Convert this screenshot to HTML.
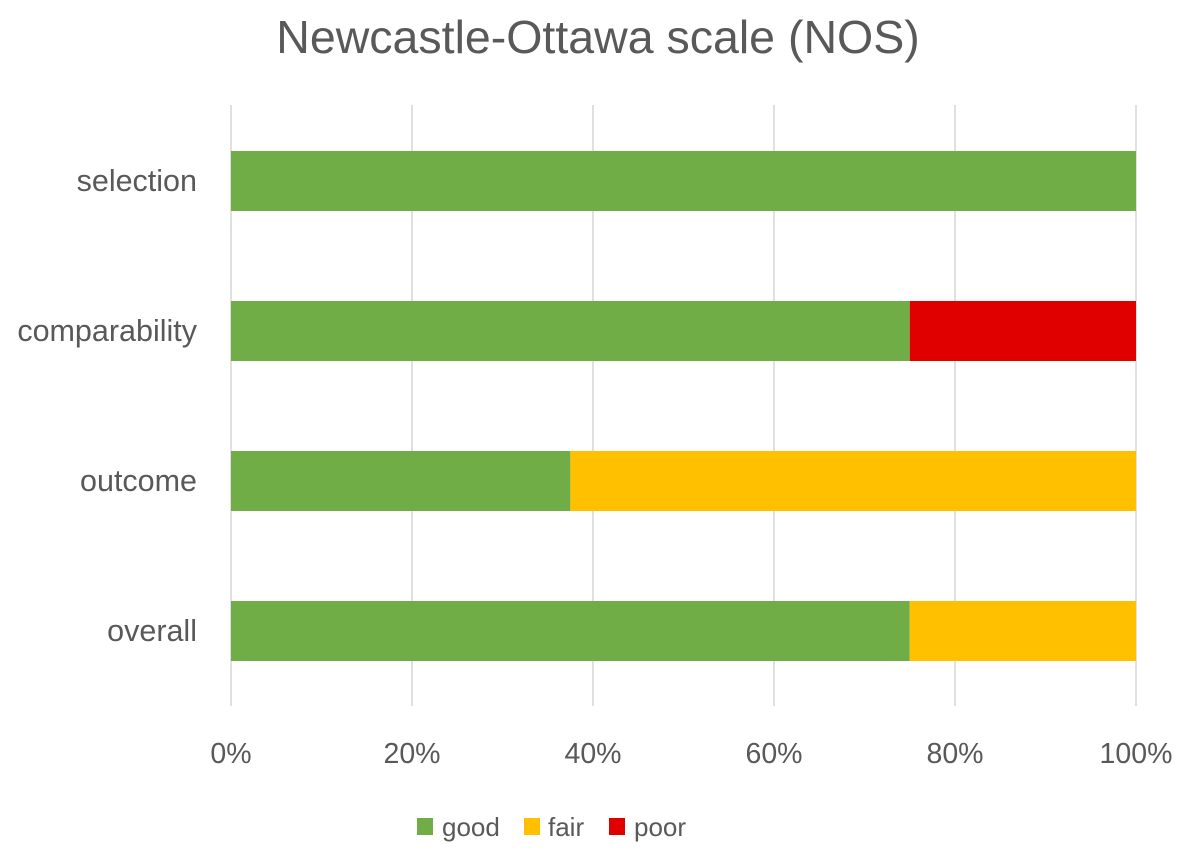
<!DOCTYPE html>
<html><head><meta charset="utf-8"><style>
body{margin:0;background:#fff;}
svg text{font-family:"Liberation Sans",sans-serif;fill:#595959;}
</style></head><body>
<svg id="chart" width="1181" height="851" viewBox="0 0 1181 851" xmlns="http://www.w3.org/2000/svg">
<text x="598" y="53" font-size="46.5" text-anchor="middle">Newcastle-Ottawa scale (NOS)</text>
<g id="grid"></g><g id="bars"></g><g id="ylabels"></g><g id="xlabels"></g>
<g>
<rect x="417" y="818" width="16" height="17" fill="#70ad47"/>
<text x="442" y="836" font-size="26">good</text>
<rect x="524" y="818" width="16" height="17" fill="#ffc000"/>
<text x="548" y="836" font-size="26">fair</text>
<rect x="609" y="818" width="16" height="17" fill="#e00000"/>
<text x="634" y="836" font-size="26">poor</text>
</g>
</svg>
<script>
const categories=["selection","comparability","outcome","overall"];
const good=[100,75,37.5,75];
const fair=[0,0,62.5,25];
const poor=[0,25,0,0];
const ticks=[0,20,40,60,80,100];
const tickLabels=["0%","20%","40%","60%","80%","100%"];
const NS="http://www.w3.org/2000/svg";
const x=v=>231+v*(1136-231)/100;
const yc=i=>181+i*150;
function mk(t,a,p){const e=document.createElementNS(NS,t);for(const k in a)e.setAttribute(k,a[k]);p.appendChild(e);return e;}
const g=document.getElementById('grid'),b=document.getElementById('bars'),yl=document.getElementById('ylabels'),xl=document.getElementById('xlabels');
ticks.forEach((t,i)=>{
const l=mk('line',{x1:x(t),x2:x(t),y1:105,y2:706,stroke:'#e0e0e0','stroke-width':2},g);


const tx=mk('text',{x:x(t),y:763,'font-size':28.5,'text-anchor':'middle'},xl);
tx.textContent=tickLabels[i];


});
const series=[[good,'#70ad47','good'],[fair,'#ffc000','fair'],[poor,'#e00000','poor']];
categories.forEach((c,i)=>{
let acc=0;
series.forEach(([arr,col,nm])=>{
const v=arr[i];if(v>0){
const r=mk('rect',{x:x(acc),y:yc(i)-30,width:x(acc+v)-x(acc),height:60,fill:col},b);


}acc+=v;});
const t=mk('text',{x:197,y:yc(i)+10,'font-size':30.5,'text-anchor':'end'},yl);
t.textContent=c;


});
</script>
</body></html>
